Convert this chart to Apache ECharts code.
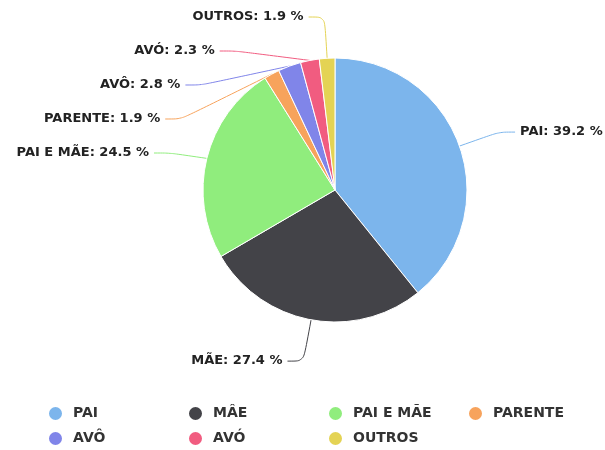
<!DOCTYPE html>
<html><head><meta charset="utf-8">
<script src="https://cdn.jsdelivr.net/npm/echarts@6/dist/echarts.min.js"></script>
<style>html,body{margin:0;padding:0;background:#fff}#c{width:605px;height:450px}</style>
</head><body><div id="c"></div>
<script>
const categories = ['PAI', 'MÂE', 'PAI E MÃE', 'PARENTE', 'AVÔ', 'AVÓ', 'OUTROS'];
const labelNames = ['PAI', 'MÃE', 'PAI E MÃE', 'PARENTE', 'AVÔ', 'AVÓ', 'OUTROS'];
const values = [39.2, 27.4, 24.5, 1.9, 2.8, 2.3, 1.9];
const colors = ['#7cb5ec', '#434348', '#90ed7d', '#f7a35c', '#8085e9', '#f15c80', '#e4d354'];
// legend grid: 4 columns, 2 rows
const legendCol = [0, 1, 2, 3, 0, 1, 2];
const legendRow = [0, 0, 0, 0, 1, 1, 1];

const chart = echarts.init(document.getElementById('c'));
const data = categories.map((c, i) => ({
  name: c, value: values[i],
  itemStyle: { color: colors[i] },
  label: { formatter: labelNames[i] + ': ' + values[i].toFixed(1) + ' %' }
}));
const legendStyle = { fontFamily: 'DejaVu Sans', fontWeight: 'bold', fontSize: 14, color: '#333', padding: [0, 0, 0, 5] };
chart.setOption({
  animation: false,
  color: colors,
  legend: categories.map((c, i) => ({
    left: 47 + legendCol[i] * 140, top: 405 + legendRow[i] * 25,
    icon: 'circle', itemWidth: 15, itemHeight: 15, padding: 0,
    textStyle: legendStyle,
    data: [c]
  })),
  series: [{
    type: 'pie',
    center: [335, 190], radius: 132,
    startAngle: 90, clockwise: true,
    itemStyle: { borderColor: '#fff', borderWidth: 1 },
    label: { fontFamily: 'DejaVu Sans', fontWeight: 'bold', fontSize: 13, color: '#222', lineHeight: 32, overflow: 'none' },
    labelLine: { show: true, length: 42, length2: 16, smooth: true, lineStyle: { width: 1 } },
    data: data
  }]
});
</script></body></html>
